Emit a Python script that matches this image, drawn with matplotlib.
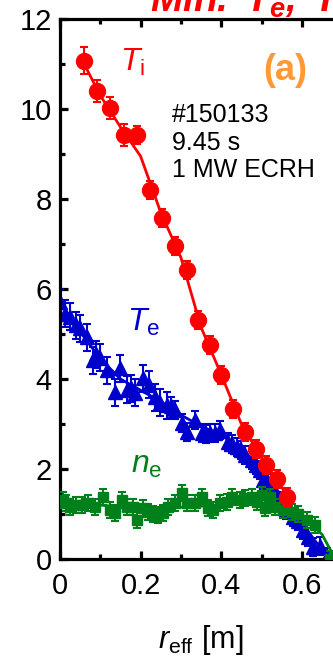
import matplotlib
matplotlib.use("Agg")
import matplotlib.pyplot as plt
from matplotlib.ticker import MultipleLocator

plt.rcParams["font.family"] = ["Liberation Sans", "DejaVu Sans"]
plt.rcParams["mathtext.fontset"] = "custom"
plt.rcParams["mathtext.rm"] = "Liberation Sans"
plt.rcParams["mathtext.it"] = "Liberation Sans:italic"
plt.rcParams["mathtext.bf"] = "Liberation Sans:bold"
plt.rcParams["mathtext.bfit"] = "Liberation Sans:italic:bold"

# Ti (red circles)
ti_r = [0.06, 0.092, 0.124, 0.159, 0.191, 0.223, 0.253, 0.285, 0.315, 0.342,
        0.372, 0.40, 0.429, 0.459, 0.486, 0.511, 0.538, 0.563]
ti_val = [11.07, 10.4, 10.02, 9.42, 9.42, 8.2, 7.58, 6.96, 6.42, 5.31,
          4.76, 4.09, 3.33, 2.82, 2.45, 2.08, 1.78, 1.38]
ti_err = [0.3, 0.25, 0.25, 0.25, 0.2, 0.2, 0.2, 0.2, 0.2, 0.2,
          0.2, 0.2, 0.2, 0.2, 0.2, 0.2, 0.2, 0.2]
ti_fit_r = [0.06, 0.10, 0.15, 0.20, 0.25, 0.30, 0.35, 0.40, 0.45, 0.50, 0.55, 0.57]
ti_fit_val = [11.0, 10.3, 9.6, 8.95, 7.7, 6.7, 5.15, 4.1, 3.0, 2.25, 1.6, 1.3]

# Te (blue triangles)
te_r = [0.0, 0.012, 0.025, 0.04, 0.05, 0.067, 0.082, 0.09, 0.1, 0.117,
        0.136, 0.149, 0.166, 0.176, 0.186, 0.206, 0.221, 0.235, 0.248, 0.265,
        0.275, 0.285, 0.303, 0.315, 0.335, 0.352, 0.362, 0.372, 0.385, 0.397,
        0.417, 0.428, 0.439, 0.449, 0.459, 0.476, 0.486, 0.496, 0.504, 0.515,
        0.53, 0.545, 0.56, 0.578, 0.59, 0.603, 0.615, 0.628, 0.645, 0.663]
te_val = [5.71, 5.45, 5.38, 5.2, 5.13, 4.93, 4.42, 4.55, 4.47, 4.2,
          3.71, 4.24, 3.76, 3.8, 3.69, 4.02, 3.87, 3.6, 3.47, 3.42,
          3.4, 3.31, 3.02, 2.82, 3.09, 2.8, 2.78, 2.8, 2.8, 2.87,
          2.6, 2.55, 2.49, 2.42, 2.31, 2.2, 2.1, 1.98, 1.76, 1.7,
          1.5, 1.3, 1.1, 0.93, 0.85, 0.64, 0.49, 0.27, 0.3, 0.04]
te_err = [0.3] * 20 + [0.2] * 30
te_fit_r = [0.0, 0.05, 0.10, 0.15, 0.20, 0.25, 0.30, 0.35, 0.40, 0.45,
            0.50, 0.55, 0.60, 0.65, 0.67]
te_fit_val = [5.7, 5.05, 4.45, 4.0, 3.75, 3.5, 3.2, 2.95, 2.75, 2.45,
              2.0, 1.4, 0.8, 0.2, 0.0]

# ne (green squares)
ne_r = [0.007, 0.016, 0.025, 0.04, 0.055, 0.07, 0.087, 0.107, 0.124, 0.136,
        0.154, 0.166, 0.181, 0.191, 0.206, 0.218, 0.23, 0.243, 0.256, 0.268,
        0.285, 0.303, 0.315, 0.335, 0.352, 0.367, 0.38, 0.397, 0.414, 0.427,
        0.447, 0.459, 0.476, 0.489, 0.501, 0.509, 0.521, 0.533, 0.553, 0.576,
        0.59, 0.613, 0.633, 0.67]
ne_val = [1.31, 1.25, 1.16, 1.2, 1.2, 1.24, 1.16, 1.38, 1.09, 1.02,
          1.31, 1.16, 1.16, 0.87, 1.13, 1.04, 1.0, 0.98, 1.02, 1.16,
          1.24, 1.47, 1.24, 1.24, 1.38, 1.13, 1.09, 1.24, 1.27, 1.38,
          1.31, 1.36, 1.38, 1.27, 1.42, 1.13, 1.38, 1.16, 1.09, 1.04,
          1.0, 0.87, 0.76, 0.0]
ne_err = [0.18] * 44
ne_fit_r = [0.0, 0.1, 0.2, 0.3, 0.4, 0.5, 0.55, 0.6, 0.65, 0.68]
ne_fit_val = [1.25, 1.2, 1.1, 1.15, 1.2, 1.25, 1.15, 0.95, 0.55, 0.05]

RED = "#ff0000"
BLUE = "#0000cc"
GREEN = "#00801a"
ORANGE = "#ff9933"

W, H = 333, 668
fig = plt.figure(figsize=(W / 100, H / 100), dpi=100)


def fx(px):
    return px / W


def fy(py):
    return 1 - py / H


x_max = 0.7
ax = fig.add_axes([fx(60), fy(559), fx(403 * x_max), 540 / H])

ax.errorbar(te_r, te_val, yerr=te_err, fmt="^", color=BLUE, ms=10,
            capsize=3, elinewidth=1.5, capthick=1.5, zorder=2)
ax.plot(te_fit_r, te_fit_val, color=BLUE, lw=2, zorder=2)
ax.errorbar(ne_r, ne_val, yerr=ne_err, fmt="s", color=GREEN, ms=6.5,
            capsize=3, elinewidth=1.5, capthick=1.5, zorder=3)
ax.plot(ne_fit_r, ne_fit_val, color=GREEN, lw=2, zorder=3)
ax.errorbar(ti_r, ti_val, yerr=ti_err, fmt="o", color=RED, ms=11.5,
            capsize=3, elinewidth=1.5, capthick=1.5, zorder=4)
ax.plot(ti_fit_r, ti_fit_val, color=RED, lw=2, zorder=4)

ax.set_xlim(0, x_max)
ax.set_ylim(0, 12)
ax.xaxis.set_minor_locator(MultipleLocator(0.1))
ax.yaxis.set_minor_locator(MultipleLocator(1))
ax.set_xticks([0, 0.2, 0.4, 0.6])
ax.set_xticklabels(["0", "0.2", "0.4", "0.6"])
ax.set_yticks([0, 2, 4, 6, 8, 10, 12])
ax.set_yticklabels(["0", "2", "4", "6", "8", "10", "12"])

for s in ax.spines.values():
    s.set_linewidth(2.3)
ax.tick_params(which="both", direction="in", top=True, right=False,
               width=2.3, labelsize=21)
ax.tick_params(which="major", length=6)
ax.tick_params(which="minor", length=3.5)
ax.tick_params(axis="y", pad=6)
ax.tick_params(axis="x", pad=9)

# axis label
fig.text(fx(158), fy(648), r"$r_\mathrm{eff}$ [m]", fontsize=22,
         ha="left", va="baseline")

# title (cut off at the top)
fig.text(fx(150), fy(12), r"$\mathbfit{Min.\ T}_\mathbfit{e}\mathbfit{,\ T}_\mathbfit{i}$",
         fontsize=28, color=RED, ha="left", va="baseline")

# curve labels
fig.text(fx(120), fy(71), r"$T_\mathrm{i}$", fontsize=23, color=RED,
         ha="left", va="baseline")
fig.text(fx(127), fy(331), r"$T_\mathrm{e}$", fontsize=23, color=BLUE,
         ha="left", va="baseline")
fig.text(fx(131), fy(473), r"$n_\mathrm{e}$", fontsize=23, color=GREEN,
         ha="left", va="baseline")
fig.text(fx(263), fy(80), "(a)", fontsize=26, fontweight="bold",
         color=ORANGE, ha="left", va="baseline")
fig.text(fx(172), fy(177), "#150133\n9.45 s\n1 MW ECRH", fontsize=18,
         ha="left", va="baseline", linespacing=1.18)

fig.savefig("out.png", dpi=100)
